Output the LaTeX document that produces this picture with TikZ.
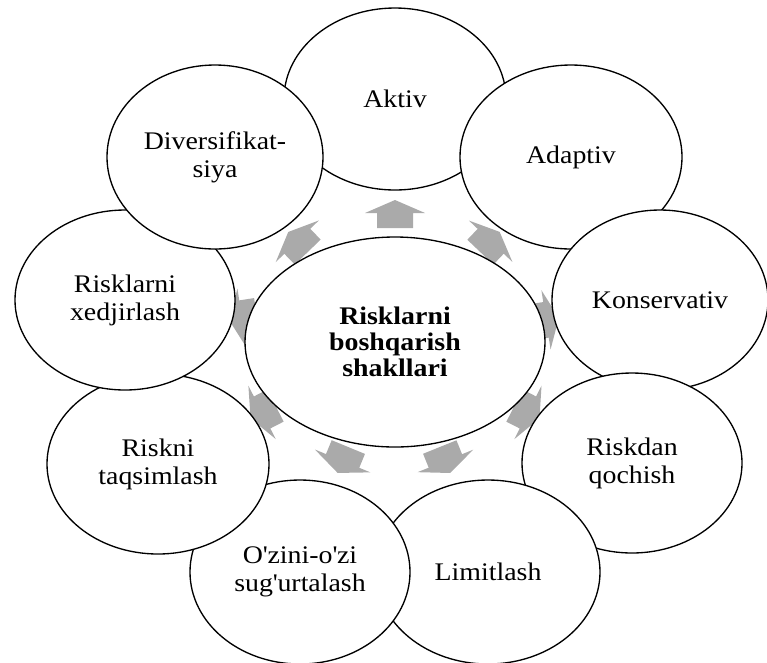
\documentclass[tikz,border=0pt]{standalone}
\usepackage{fontspec}
\setmainfont{Liberation Serif}[FakeStretch=1.1]
\usetikzlibrary{shapes.geometric}
\definecolor{arrgray}{RGB}{170,170,170}
\tikzset{
  oval/.style={ellipse, draw=black, line width=1pt, fill=white, inner sep=0pt,
    align=center, font=\fontsize{19}{21}\selectfont},
  hub/.style={oval, font=\fontsize{19}{19.5}\selectfont\bfseries},
  blockarrow/.pic={\fill[arrgray] (-14,-18) -- (1,-18) -- (1,-30) -- (14,0) -- (1,30) -- (1,18) -- (-14,18) -- cycle;}
}
\begin{document}
\begin{tikzpicture}[x=0.75pt,y=-0.75pt]
\useasboundingbox (0,0) rectangle (767,662);
% arrows (drawn behind the ellipses)
\pic[rotate=90]    at (395,214) {blockarrow};
\pic[rotate=46.4]  at (490,242) {blockarrow};
\pic[rotate=8.8]   at (545,320) {blockarrow};
\pic[rotate=-27]   at (527,412) {blockarrow};
\pic[rotate=-68]   at (445,460) {blockarrow};
\pic[rotate=-112.4] at (343,460) {blockarrow};
\pic[rotate=-152.8] at (263,412) {blockarrow};
\pic[rotate=188.8] at (243,318) {blockarrow};
\pic[rotate=134]   at (298,242) {blockarrow};
% outer ellipses
\node[oval, minimum width=166.5pt, minimum height=136.5pt] (aktiv) at (395,99) {Aktiv};
\node[oval, minimum width=166.5pt, minimum height=138pt] (adaptiv) at (571,157) {Adaptiv};
\node[oval, minimum width=162pt, minimum height=135pt] (konserv) at (660,300) {Konservativ};
\node[oval, minimum width=165pt, minimum height=135pt] (riskdan) at (632,463) {Riskdan\\qochish};
\node[oval, minimum width=168pt, minimum height=138pt] (limit) at (488,572) {Limitlash};
\node[oval, minimum width=165pt, minimum height=138pt] (ozini) at (300,572) {O\textquotesingle zini-o\textquotesingle zi\\sug\textquotesingle urtalash};
\node[oval, minimum width=166.5pt, minimum height=135pt] (taqsim) at (158,464) {Riskni\\taqsimlash};
\node[oval, minimum width=165pt, minimum height=135pt] (xedj) at (125,300) {Risklarni\\xedjirlash};
\node[oval, minimum width=162pt, minimum height=138pt] (divers) at (215,157) {Diversifikat-\\siya};
% centre
\node[hub, minimum width=225pt, minimum height=157.5pt] (centre) at (395,342) {Risklarni\\boshqarish\\shakllari};
\end{tikzpicture}
\end{document}
